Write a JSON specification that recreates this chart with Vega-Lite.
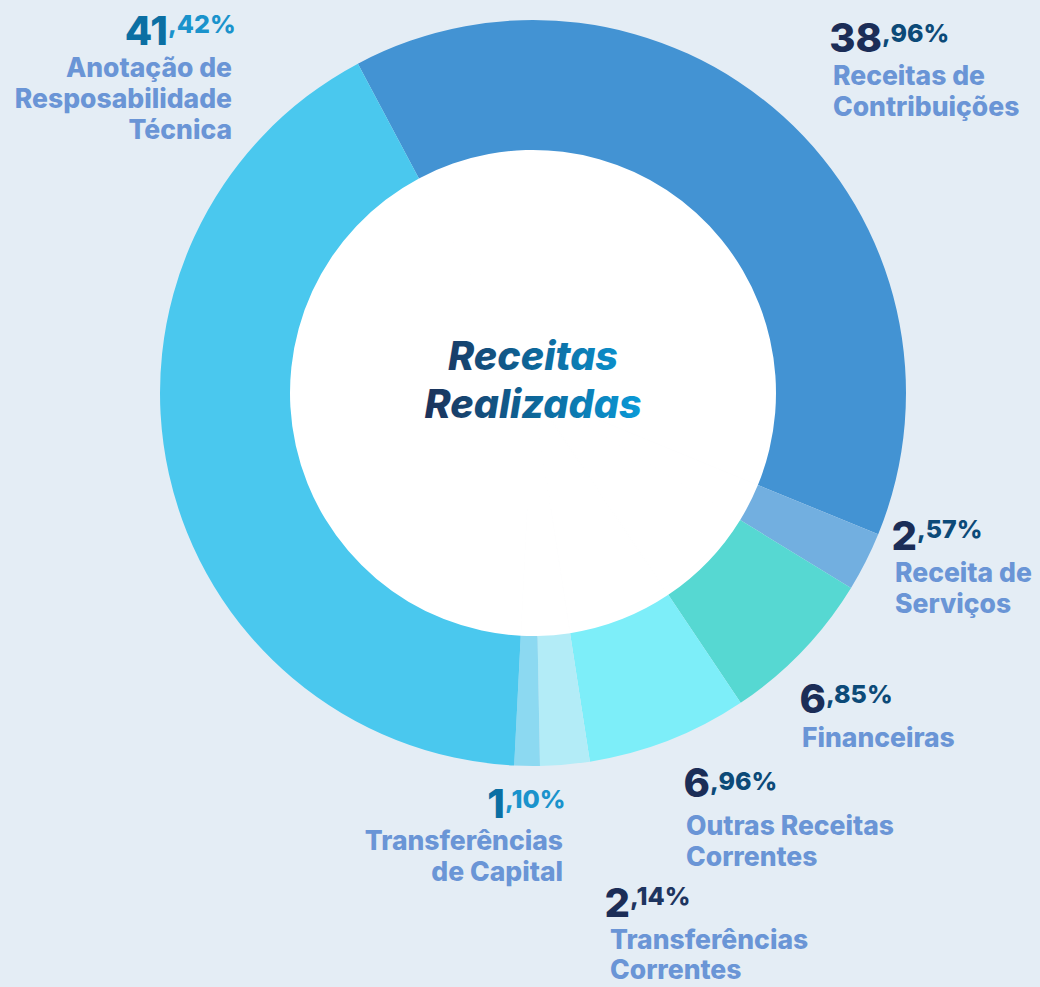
{
  "$schema": "https://vega.github.io/schema/vega-lite/v6.json",
  "width": 1014,
  "height": 786,
  "autosize": {"type": "none"},
  "padding": {"left": 26, "top": 0, "right": 0, "bottom": 201},
  "background": "#e4edf5",
  "config": {"view": {"stroke": null}, "text": {"font": "Inter", "lineBreak": "\n"}},
  "data": {"values": [
    {"cat": "Receitas de Contribuições", "label": "Receitas de\nContribuições", "value": 38.96, "ord": 1, "int": "38", "dec": ",96%"},
    {"cat": "Receita de Serviços", "label": "Receita de\nServiços", "value": 2.57, "ord": 2, "int": "2", "dec": ",57%"},
    {"cat": "Financeiras", "label": "Financeiras", "value": 6.85, "ord": 3, "int": "6", "dec": ",85%"},
    {"cat": "Outras Receitas Correntes", "label": "Outras Receitas\nCorrentes", "value": 6.96, "ord": 4, "int": "6", "dec": ",96%"},
    {"cat": "Transferências Correntes", "label": "Transferências\nCorrentes", "value": 2.14, "ord": 5, "int": "2", "dec": ",14%"},
    {"cat": "Transferências de Capital", "label": "Transferências\nde Capital", "value": 1.10, "ord": 6, "int": "1", "dec": ",10%"},
    {"cat": "Anotação de Resposabilidade Técnica", "label": "Anotação de\nResposabilidade\nTécnica", "value": 41.42, "ord": 7, "int": "41", "dec": ",42%"}
  ]},
  "encoding": {
    "theta": {"field": "value", "type": "quantitative", "stack": true, "scale": {"range": [-0.4887, 5.7945]}},
    "order": {"field": "ord", "type": "quantitative"}
  },
  "layer": [
    {"mark": {"type": "arc", "outerRadius": 244, "innerRadius": 0, "color": "white", "stroke": "white", "strokeWidth": 1}},
    {"mark": {"type": "arc", "outerRadius": 373, "innerRadius": 243},
     "encoding": {"color": {"field": "cat", "type": "nominal", "legend": null,
       "scale": {"domain": ["Receitas de Contribuições", "Receita de Serviços", "Financeiras", "Outras Receitas Correntes", "Transferências Correntes", "Transferências de Capital", "Anotação de Resposabilidade Técnica"],
                 "range": ["#4393d3", "#72afe0", "#56d8d2", "#7deef9", "#b3ecf7", "#8cd9f1", "#4ac8ee"]}}}},
    {"transform": [{"filter": "datum.ord == 1"}],
     "mark": {"type": "text", "radius": 0, "text": ["Receitas", "Realizadas"], "align": "center", "baseline": "alphabetic", "dy": -23, "lineHeight": 48, "fontSize": 39.5, "fontWeight": 800, "fontStyle": "italic",
       "fill": {"gradient": "linear", "x1": 0, "y1": 0, "x2": 1, "y2": 0, "stops": [{"offset": 0, "color": "#1c3159"}, {"offset": 0.5, "color": "#0d6699"}, {"offset": 1, "color": "#0a9ad8"}]}}},

    {"mark": {"type": "text", "radius": 373, "align": "right", "baseline": "alphabetic", "dx": -0.9, "dy": -429.1, "fontSize": 40, "fontWeight": 800, "color": "#0b6fa3"},
     "encoding": {"text": {"condition": {"test": "datum.ord == 7", "field": "int", "type": "nominal"}, "value": ""}}},
    {"mark": {"type": "text", "radius": 373, "align": "left", "baseline": "alphabetic", "dx": -0.9, "dy": -441.1, "fontSize": 25, "fontWeight": 800, "color": "#1a93cc"},
     "encoding": {"text": {"condition": {"test": "datum.ord == 7", "field": "dec", "type": "nominal"}, "value": ""}}},
    {"mark": {"type": "text", "radius": 373, "align": "right", "baseline": "alphabetic", "dx": 63.1, "dy": -397.1, "fontSize": 26.5, "fontWeight": 800, "lineHeight": 31, "color": "#6a95d6"},
     "encoding": {"text": {"condition": {"test": "datum.ord == 7", "field": "label", "type": "nominal"}, "value": ""}}},

    {"mark": {"type": "text", "radius": 373, "align": "right", "baseline": "alphabetic", "dx": 98.8, "dy": -64.3, "fontSize": 40, "fontWeight": 800, "color": "#1b2d57"},
     "encoding": {"text": {"condition": {"test": "datum.ord == 1", "field": "int", "type": "nominal"}, "value": ""}}},
    {"mark": {"type": "text", "radius": 373, "align": "left", "baseline": "alphabetic", "dx": 98.8, "dy": -74.3, "fontSize": 25, "fontWeight": 800, "color": "#0c4a78"},
     "encoding": {"text": {"condition": {"test": "datum.ord == 1", "field": "dec", "type": "nominal"}, "value": ""}}},
    {"mark": {"type": "text", "radius": 373, "align": "left", "baseline": "alphabetic", "dx": 49.8, "dy": -31.3, "fontSize": 26.5, "fontWeight": 800, "lineHeight": 31, "color": "#6a95d6"},
     "encoding": {"text": {"condition": {"test": "datum.ord == 1", "field": "label", "type": "nominal"}, "value": ""}}},

    {"mark": {"type": "text", "radius": 373, "align": "right", "baseline": "alphabetic", "dx": 51.3, "dy": -11.7, "fontSize": 40, "fontWeight": 800, "color": "#1b2d57"},
     "encoding": {"text": {"condition": {"test": "datum.ord == 2", "field": "int", "type": "nominal"}, "value": ""}}},
    {"mark": {"type": "text", "radius": 373, "align": "left", "baseline": "alphabetic", "dx": 51.3, "dy": -23.7, "fontSize": 25, "fontWeight": 800, "color": "#0c4a78"},
     "encoding": {"text": {"condition": {"test": "datum.ord == 2", "field": "dec", "type": "nominal"}, "value": ""}}},
    {"mark": {"type": "text", "radius": 373, "align": "left", "baseline": "alphabetic", "dx": 29.3, "dy": 20.3, "fontSize": 26.5, "fontWeight": 800, "lineHeight": 31, "color": "#6a95d6"},
     "encoding": {"text": {"condition": {"test": "datum.ord == 2", "field": "label", "type": "nominal"}, "value": ""}}},

    {"mark": {"type": "text", "radius": 373, "align": "right", "baseline": "alphabetic", "dx": 23.9, "dy": 61.7, "fontSize": 40, "fontWeight": 800, "color": "#1b2d57"},
     "encoding": {"text": {"condition": {"test": "datum.ord == 3", "field": "int", "type": "nominal"}, "value": ""}}},
    {"mark": {"type": "text", "radius": 373, "align": "left", "baseline": "alphabetic", "dx": 23.9, "dy": 51.7, "fontSize": 25, "fontWeight": 800, "color": "#0c4a78"},
     "encoding": {"text": {"condition": {"test": "datum.ord == 3", "field": "dec", "type": "nominal"}, "value": ""}}},
    {"mark": {"type": "text", "radius": 373, "align": "left", "baseline": "alphabetic", "dx": -0.1, "dy": 95.7, "fontSize": 26.5, "fontWeight": 800, "lineHeight": 31, "color": "#6a95d6"},
     "encoding": {"text": {"condition": {"test": "datum.ord == 3", "field": "label", "type": "nominal"}, "value": ""}}},

    {"mark": {"type": "text", "radius": 373, "align": "right", "baseline": "alphabetic", "dx": 41.5, "dy": 56.5, "fontSize": 40, "fontWeight": 800, "color": "#1b2d57"},
     "encoding": {"text": {"condition": {"test": "datum.ord == 4", "field": "int", "type": "nominal"}, "value": ""}}},
    {"mark": {"type": "text", "radius": 373, "align": "left", "baseline": "alphabetic", "dx": 41.5, "dy": 49.5, "fontSize": 25, "fontWeight": 800, "color": "#0c4a78"},
     "encoding": {"text": {"condition": {"test": "datum.ord == 4", "field": "dec", "type": "nominal"}, "value": ""}}},
    {"mark": {"type": "text", "radius": 373, "align": "left", "baseline": "alphabetic", "dx": 17.5, "dy": 94.5, "fontSize": 26.5, "fontWeight": 800, "lineHeight": 31, "color": "#6a95d6"},
     "encoding": {"text": {"condition": {"test": "datum.ord == 4", "field": "label", "type": "nominal"}, "value": ""}}},

    {"mark": {"type": "text", "radius": 373, "align": "right", "baseline": "alphabetic", "dx": 65, "dy": 152.4, "fontSize": 40, "fontWeight": 800, "color": "#1b2d57"},
     "encoding": {"text": {"condition": {"test": "datum.ord == 5", "field": "int", "type": "nominal"}, "value": ""}}},
    {"mark": {"type": "text", "radius": 373, "align": "left", "baseline": "alphabetic", "dx": 65, "dy": 140.4, "fontSize": 25, "fontWeight": 800, "color": "#1e3560"},
     "encoding": {"text": {"condition": {"test": "datum.ord == 5", "field": "dec", "type": "nominal"}, "value": ""}}},
    {"mark": {"type": "text", "radius": 373, "align": "left", "baseline": "alphabetic", "dx": 45, "dy": 184.4, "fontSize": 26.5, "fontWeight": 800, "lineHeight": 30, "color": "#6a95d6"},
     "encoding": {"text": {"condition": {"test": "datum.ord == 5", "field": "label", "type": "nominal"}, "value": ""}}},

    {"mark": {"type": "text", "radius": 373, "align": "right", "baseline": "alphabetic", "dx": -22.1, "dy": 52, "fontSize": 40, "fontWeight": 800, "color": "#0b6fa3"},
     "encoding": {"text": {"condition": {"test": "datum.ord == 6", "field": "int", "type": "nominal"}, "value": ""}}},
    {"mark": {"type": "text", "radius": 373, "align": "left", "baseline": "alphabetic", "dx": -22.1, "dy": 42, "fontSize": 25, "fontWeight": 800, "color": "#1a93cc"},
     "encoding": {"text": {"condition": {"test": "datum.ord == 6", "field": "dec", "type": "nominal"}, "value": ""}}},
    {"mark": {"type": "text", "radius": 373, "align": "right", "baseline": "alphabetic", "dx": 35.9, "dy": 84, "fontSize": 26.5, "fontWeight": 800, "lineHeight": 31, "color": "#6a95d6"},
     "encoding": {"text": {"condition": {"test": "datum.ord == 6", "field": "label", "type": "nominal"}, "value": ""}}}
  ]
}
